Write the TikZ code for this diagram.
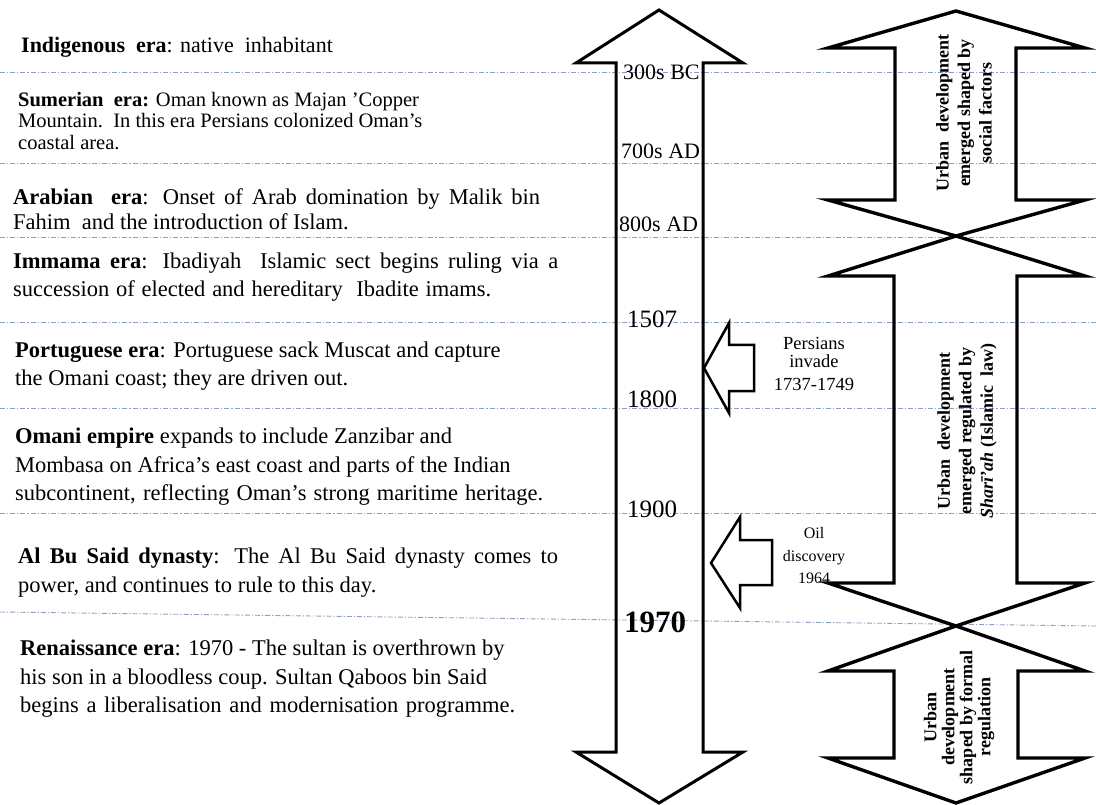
\documentclass[tikz,border=0pt]{standalone}
\usepackage{fontspec}
\setmainfont{Liberation Serif}[
  BoldFont={Liberation Serif Bold},
  ItalicFont={Liberation Serif Italic},
  BoldItalicFont={Liberation Serif Bold Italic}]
\definecolor{guidecol}{RGB}{140,160,190}
\newcommand{\spreadline}[2]{\makebox[#1][s]{#2}}
\begin{document}
\begin{tikzpicture}[x=1pt,y=-1pt,
  guide/.style={draw=guidecol, line width=0.9pt, dash pattern=on 5pt off 2pt on 1.2pt off 2pt},
  era/.style={anchor=north west, inner sep=0pt, align=left},
  yearlbl/.style={anchor=base west, inner sep=0pt, font=\fontsize{22}{26}\selectfont},
  bigyear/.style={anchor=base west, inner sep=0pt, font=\fontsize{25}{30}\selectfont},
  blockarrow/.style={draw=black, line width=3pt, line join=miter},
  phasearrow/.style={draw=black, line width=3.4pt, line join=miter},
  eventarrow/.style={draw=black, line width=2.5pt, line join=miter},
  phasetext/.style={rotate=90, align=center, inner sep=0pt},
  eventtext/.style={anchor=north, align=center, inner sep=0pt}]
\useasboundingbox (0,0) rectangle (1096,805);

% horizontal guide lines separating the eras
\foreach \gy [count=\i] in {72,163,237,322,408,513} {
  \coordinate (gw\i) at (0,\gy);
  \coordinate (ge\i) at (1096,\gy);
  \draw[guide] (gw\i) -- (ge\i);
}
\coordinate (gw7) at (0,612);
\coordinate (ge7) at (1096,626);
\draw[guide] (gw7) -- (ge7);

% era descriptions
\node[era, font=\fontsize{22}{27}\selectfont] (indig) at (21,37)
  {\textbf{Indigenous\ \ era}: native\ \ inhabitant};
\node[era, font=\fontsize{20.5}{21.5}\selectfont] (sumer) at (18,92)
  {\textbf{Sumerian\ \ era:} Oman\ known\ as Majan 'Copper\\
   Mountain.\ \ In this era Persians colonized Oman’s\\
   coastal area.};
\node[era, font=\fontsize{22.5}{25}\selectfont] (arab) at (13,188)
  {\spreadline{527pt}{\textbf{Arabian\ \ era}: Onset of Arab domination by Malik bin}\\
   Fahim\ \ and the introduction of Islam.};
\node[era, font=\fontsize{22.5}{28}\selectfont] (immama) at (13,253)
  {\spreadline{545pt}{\textbf{Immama\ era}: Ibadiyah\ \ Islamic sect begins ruling via a}\\
   \spreadline{478pt}{succession of elected and hereditary\ \ Ibadite\ imams.}};
\node[era, font=\fontsize{22.5}{28}\selectfont] (portu) at (15,342)
  {\textbf{Portuguese era}: Portuguese sack Muscat and capture\\
   the Omani coast; they are driven out.};
\node[era, font=\fontsize{22.5}{28.5}\selectfont] (omani) at (15,428)
  {\textbf{Omani\ empire} expands\ to include Zanzibar\ and\\
   Mombasa\ on Africa's east coast and parts of the Indian\\
   \spreadline{528pt}{subcontinent, reflecting\ Oman's strong maritime heritage.}};
\node[era, font=\fontsize{22.5}{29}\selectfont] (albu) at (18,548)
  {\spreadline{540pt}{\textbf{Al Bu Said dynasty}: The Al Bu Said dynasty\ comes to}\\
   power, and continues to rule to this day.};
\node[era, font=\fontsize{22.5}{28.5}\selectfont] (renai) at (20,640)
  {\textbf{Renaissance era}: 1970 - The sultan is overthrown by\\
   his son in a bloodless coup. Sultan Qaboos bin Said\\
   \spreadline{495pt}{begins a liberalisation and modernisation programme.}};

% the timeline arrow
\draw[blockarrow] (659,10) -- (743,63) -- (703,63) -- (703,752) -- (743,752)
  -- (659,803) -- (576,752) -- (616,752) -- (616,63) -- (576,63) -- cycle;

% dates along the timeline
\node[yearlbl] (y300) at (623,80) {300s BC};
\node[yearlbl] (y700) at (621,159) {700s AD};
\node[yearlbl] (y800) at (619,232) {800s AD};
\node[bigyear] (y1507) at (627,327) {1507};
\node[bigyear] (y1800) at (627,407) {1800};
\node[bigyear] (y1900) at (627,517) {1900};
\node[anchor=base west, inner sep=0pt, font=\bfseries\fontsize{31}{36}\selectfont] (y1970) at (624,632) {1970};

% events pointing at the timeline
\draw[eventarrow] (704,368) -- (729,323) -- (729,345) -- (754,345) -- (754,391)
  -- (729,391) -- (729,413) -- cycle;
\node[eventtext, font=\fontsize{18.5}{17.5}\selectfont] (persians) at (814,337.5)
  {Persians\\invade\\[6pt]1737-1749};
\draw[eventarrow] (711,563) -- (740,517) -- (740,540) -- (772,540) -- (772,585)
  -- (740,585) -- (740,608) -- cycle;
\node[eventtext, font=\fontsize{16}{22.5}\selectfont] (oil) at (814,527.5)
  {Oil\\discovery\\1964};

% phases of urban development
\draw[phasearrow] (956,11) -- (1085,48) -- (1016,48) -- (1016,200) -- (1085,200)
  -- (956,236) -- (828,200) -- (895,200) -- (895,48) -- (828,48) -- cycle;
\draw[phasearrow] (956,236) -- (1085,276) -- (1017,276) -- (1017,583) -- (1085,583)
  -- (956,626) -- (828,583) -- (894,583) -- (894,276) -- (828,276) -- cycle;
\draw[phasearrow] (956,626) -- (1085,671) -- (1018,671) -- (1018,758) -- (1085,758)
  -- (956,803) -- (828,758) -- (894,758) -- (894,671) -- (828,671) -- cycle;

\node[phasetext, font=\bfseries\fontsize{18}{21.5}\selectfont] (social) at (964,113)
  {Urban\ \ development\\emerged shaped by\\social factors};
\node[phasetext, font=\bfseries\fontsize{18}{21.5}\selectfont] (sharia) at (967,431)
  {Urban\ \ development\\emerged regulated by\\\textit{Sharī'ah} (Islamic\ \ law)};
\node[phasetext, font=\bfseries\fontsize{18}{18}\selectfont] (formal) at (959,717)
  {Urban\\development\\shaped by formal\\regulation};
\end{tikzpicture}
\end{document}
